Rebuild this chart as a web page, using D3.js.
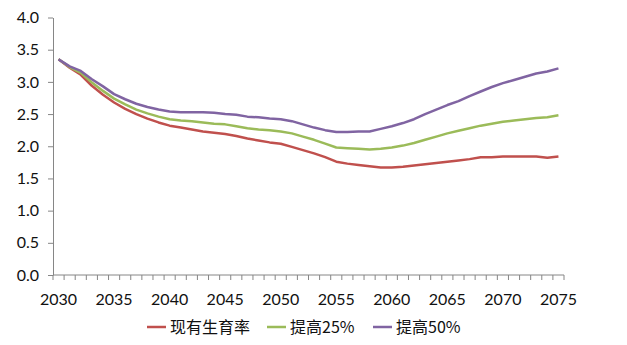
<!DOCTYPE html>
<html>
<head>
<meta charset="utf-8">
<script src="https://cdn.jsdelivr.net/npm/d3@7"></script>
<style>
	body { margin: 0; background: #fff; }
	svg { display: block; }
	.axis path, .axis line { stroke: #868686; }
	.axis text { fill: #111; font-family: Lato, "Open Sans", sans-serif; font-size: 16px; }
	.legend text { font-family: "Noto Sans CJK SC", sans-serif; font-size: 16px; fill: #111; }
</style>
</head>
<body>
<svg id="chart"></svg>
<script>
//Years on the category axis and the three fertility scenarios.
const years = d3.range(2030, 2076);
const yTicks = [0, 0.5, 1.0, 1.5, 2.0, 2.5, 3.0, 3.5, 4.0];
const seriesNames = ['现有生育率', '提高25%', '提高50%'];
const seriesColors = ['#c0504d', '#9bbb59', '#8064a2'];
const current = [3.35, 3.22, 3.11, 2.94, 2.80, 2.68, 2.58, 2.50, 2.43, 2.37,
	2.32, 2.29, 2.26, 2.23, 2.21, 2.19, 2.16, 2.12, 2.09, 2.06,
	2.04, 1.99, 1.94, 1.89, 1.83, 1.76, 1.73, 1.71, 1.69, 1.67,
	1.67, 1.68, 1.70, 1.72, 1.74, 1.76, 1.78, 1.80, 1.83, 1.83,
	1.84, 1.84, 1.84, 1.84, 1.82, 1.84];
const plus25 = [3.35, 3.23, 3.14, 2.99, 2.86, 2.74, 2.65, 2.57, 2.51, 2.46,
	2.42, 2.40, 2.39, 2.37, 2.35, 2.34, 2.31, 2.28, 2.26, 2.25,
	2.23, 2.20, 2.15, 2.10, 2.04, 1.98, 1.97, 1.96, 1.95, 1.96,
	1.98, 2.01, 2.05, 2.10, 2.15, 2.20, 2.24, 2.28, 2.32, 2.35,
	2.38, 2.40, 2.42, 2.44, 2.45, 2.48];
const plus50 = [3.35, 3.24, 3.17, 3.04, 2.93, 2.81, 2.73, 2.66, 2.61, 2.57,
	2.54, 2.53, 2.53, 2.53, 2.52, 2.50, 2.49, 2.46, 2.45, 2.43,
	2.42, 2.39, 2.34, 2.29, 2.25, 2.22, 2.22, 2.23, 2.23, 2.27,
	2.31, 2.36, 2.42, 2.50, 2.57, 2.64, 2.70, 2.78, 2.85, 2.92,
	2.98, 3.03, 3.08, 3.13, 3.16, 3.21];
const seriesValues = [current, plus25, plus50];

const width = 627, height = 345;
const margin = {top: 17.5, right: 63, bottom: 70, left: 53};
const innerWidth = width - margin.left - margin.right;
const innerHeight = height - margin.top - margin.bottom;

const svg = d3.select('#chart')
	.attr('width', width)
	.attr('height', height);
const g = svg.append('g')
	.attr('transform', `translate(${margin.left}, ${margin.top})`);

const x = d3.scaleBand().domain(years).range([0, innerWidth]);
const y = d3.scaleLinear().domain([0, 4]).range([innerHeight, 0]);

//Value axis with outward ticks.
g.append('g')
	.attr('class', 'axis')
	.call(d3.axisLeft(y).tickValues(yTicks).tickFormat(d3.format('.1f'))
		.tickSize(5).tickSizeOuter(0).tickPadding(9));

//Category axis: a tick at every boundary, a label every five years.
const xAxis = g.append('g')
	.attr('class', 'axis')
	.attr('transform', `translate(0, ${innerHeight})`);
xAxis.append('line')
	.attr('x1', 0).attr('x2', innerWidth)
	.attr('stroke', '#868686');
xAxis.selectAll('.tick')
	.data(d3.range(years.length + 1))
	.join('line')
	.attr('x1', i => i * x.step()).attr('x2', i => i * x.step())
	.attr('y1', 0).attr('y2', 5)
	.attr('stroke', '#868686');
xAxis.selectAll('text')
	.data(years.filter(yr => (yr - 2030) % 5 === 0))
	.join('text')
	.attr('x', yr => x(yr) + x.bandwidth() / 2)
	.attr('y', 30)
	.attr('text-anchor', 'middle')
	.text(yr => yr);

//Scenario lines.
const line = d3.line()
	.x((v, i) => x(years[i]) + x.bandwidth() / 2)
	.y(v => y(v));
g.selectAll('.series')
	.data(seriesValues)
	.join('path')
	.attr('class', 'series')
	.attr('fill', 'none')
	.attr('stroke', (d, i) => seriesColors[i])
	.attr('stroke-width', 2.5)
	.attr('stroke-linejoin', 'round')
	.attr('d', line);

//Legend under the axis.
const legendX = [147, 267, 373];
const legend = svg.append('g').attr('class', 'legend');
const items = legend.selectAll('g')
	.data(seriesNames)
	.join('g')
	.attr('transform', (d, i) => `translate(${legendX[i]}, 327)`);
items.append('line')
	.attr('x1', 0).attr('x2', 19)
	.attr('stroke', (d, i) => seriesColors[i])
	.attr('stroke-width', 2.5);
items.append('text')
	.attr('x', 23)
	.attr('dy', '0.35em')
	.text(d => d);
</script>
</body>
</html>
